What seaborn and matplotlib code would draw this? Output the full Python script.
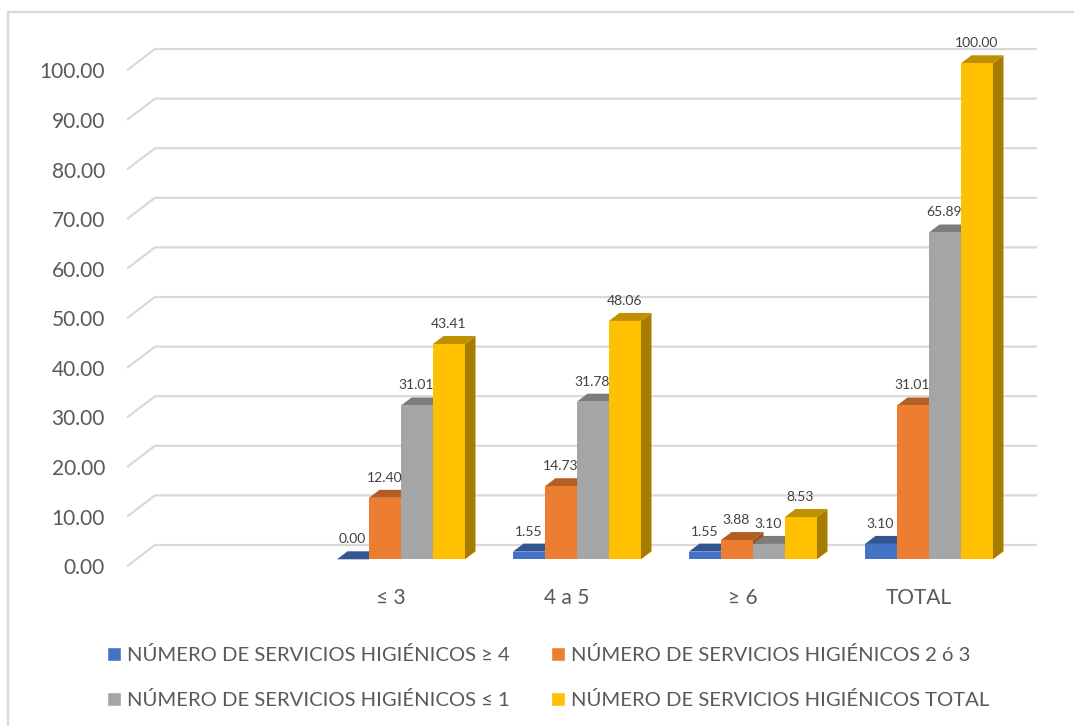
import numpy as np
import pandas as pd
import matplotlib
matplotlib.use("Agg")
import matplotlib.pyplot as plt
from matplotlib.lines import Line2D
from matplotlib.transforms import ScaledTranslation
from matplotlib.colors import to_rgb
import seaborn as sns

categories = ["", "≤ 3", "4 a 5", "≥ 6", "TOTAL"]
series = ["NÚMERO DE SERVICIOS HIGIÉNICOS ≥ 4", "NÚMERO DE SERVICIOS HIGIÉNICOS 2 ó 3",
          "NÚMERO DE SERVICIOS HIGIÉNICOS ≤ 1", "NÚMERO DE SERVICIOS HIGIÉNICOS TOTAL"]
v_ge4 = [np.nan, 0.00, 1.55, 1.55, 3.10]
v_2o3 = [np.nan, 12.40, 14.73, 3.88, 31.01]
v_le1 = [np.nan, 31.01, 31.78, 3.10, 65.89]
v_tot = [np.nan, 43.41, 48.06, 8.53, 100.00]
colors = ["#4472C4", "#ED7D31", "#A5A5A5", "#FFC000"]
yticks = list(range(0, 101, 10))

W, H = 1074, 726
sns.set_theme(style="white")
plt.rcParams["font.family"] = ["Lato", "DejaVu Sans"]

# pixel layout helpers
X0, UX = 225.0, 176.0      # px of category 0 and px per category
Y0, UY = 559.3, 4.96       # px of value 0 and px per value unit
L, R, T = 127.0, 1037.0, 30.0
fig = plt.figure(figsize=(W / 100, H / 100), dpi=100, facecolor="white")
ax = fig.add_axes([L / W, 1 - Y0 / H, (R - L) / W, (Y0 - T) / H])
ax.set_xlim((L - X0) / UX, (R - X0) / UX)
ax.set_ylim(0, (Y0 - T) / UY)

df = pd.DataFrame({
    "cat": categories * 4,
    "serie": [s for s in series for _ in categories],
    "val": v_ge4 + v_2o3 + v_le1 + v_tot,
})
sns.barplot(data=df, x="cat", y="val", hue="serie", order=categories, hue_order=series,
            palette=colors, saturation=1, width=128 / 176, gap=0, errorbar=None, ax=ax)
ax.set_xlim((L - X0) / UX, (R - X0) / UX)
handles, labels = ax.get_legend_handles_labels()
ax.get_legend().remove()

# back-wall gridlines with the diagonal side-wall piece
grid_c = "#D9D9D9"
px = lambda x: (x - X0) / UX
for t in yticks:
    back = t + 14.3 / UY
    front = t - 7.0 / UY
    ax.plot([px(127), px(155), px(1037)], [front, back, back], color=grid_c, lw=1.6,
            solid_capstyle="butt", zorder=1, clip_on=False)

# 3D faces
ddx, ddy = 10.5 / UX, 8.0 / UY
def shade(c, f):
    return tuple(v * f for v in to_rgb(c))
bars = []
for si, cont in enumerate(ax.containers):
    for bar in cont:
        h = bar.get_height()
        if np.isnan(h):
            bar.set_visible(False)
            continue
        bars.append((bar.get_x(), si, bar, h))
bars.sort(key=lambda b: b[0])
for k, (x, si, bar, h) in enumerate(bars):
    w = bar.get_width()
    z = 3 + k * 0.01
    c = colors[si]
    ax.fill([x + w, x + w + ddx, x + w + ddx, x + w], [0, ddy, h + ddy, h],
            color=shade(c, 0.65), lw=0, zorder=z, clip_on=False)
    ax.fill([x, x + ddx, x + w + ddx, x + w], [h, h + ddy, h + ddy, h],
            color=shade(c, 0.75), lw=0, zorder=z + 0.001, clip_on=False)
    bar.set_zorder(z + 0.002)
    bar.set_linewidth(0)
    ax.annotate(f"{h:.2f}", (x + w / 2, h), xytext=(-0.5, 20 * 0.72), textcoords="offset points",
                ha="center", va="center", fontsize=10, color="#404040", zorder=10)

# axes
sns.despine(ax=ax, left=True, bottom=True, top=True, right=True)
ax.set_xlabel("")
ax.set_ylabel("")
ax.set_yticks(yticks, [f"{t:.2f}" for t in yticks])
ax.set_xticks(np.arange(len(categories)) - 10 / UX, categories)
ax.tick_params(axis="y", length=0, pad=22 * 0.72, labelsize=15, labelcolor="#595959")
ax.tick_params(axis="x", length=0, pad=29 * 0.72, labelsize=15, labelcolor="#595959")
off = ScaledTranslation(0, -7 / 100, fig.dpi_scale_trans)
for lab in ax.get_yticklabels():
    lab.set_transform(lab.get_transform() + off)

# legend
fs = 14.6
fpx = fs / 0.72
order = [0, 2, 1, 3]
leg = ax.legend([handles[i] for i in order], [labels[i] for i in order], ncol=2,
                loc="lower left", bbox_to_anchor=(107 / W, 1 - 709 / H), bbox_transform=fig.transFigure,
                frameon=False, fontsize=fs, labelcolor="#595959", borderpad=0, borderaxespad=0,
                handlelength=14 / fpx, handleheight=14 / fpx, handletextpad=6 / fpx,
                columnspacing=41 / fpx, labelspacing=(47 - 20) / fpx)

# chart frame
fc = "#D9D9D9"
fig.add_artist(Line2D([8 / W, 8 / W, 1], [0, 1 - 12 / H, 1 - 12 / H], color=fc, lw=1.6,
                      transform=fig.transFigure, solid_joinstyle="miter"))

fig.savefig("out.png", dpi=100, facecolor="white")
